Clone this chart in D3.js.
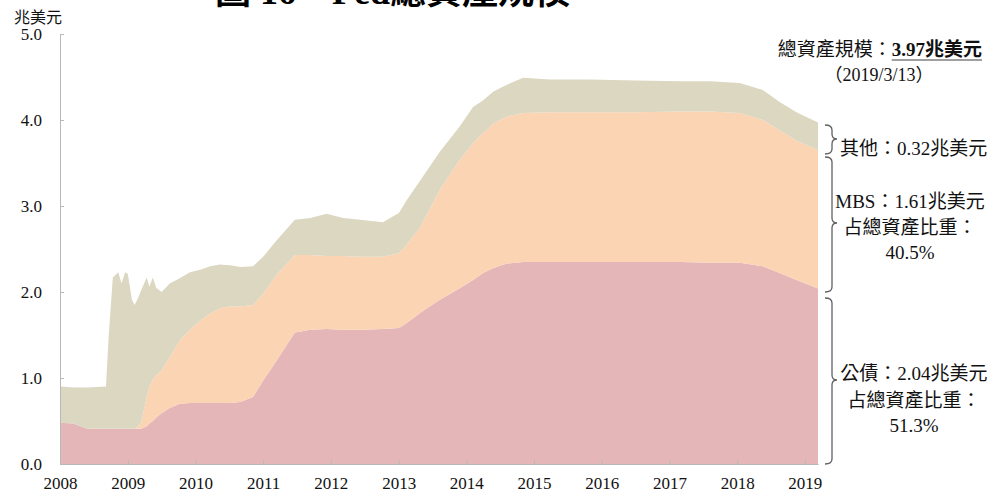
<!DOCTYPE html>
<html>
<head>
<meta charset="utf-8">
<script src="https://cdn.jsdelivr.net/npm/d3@7"></script>
<style>
  body { margin: 0; background: #fff; }
  svg { display: block; }
  .fed-axis text { font-family: "Liberation Serif", "Noto Sans CJK TC", serif; font-size: 17px; fill: #111; }
  .fed-axis path, .fed-axis line { stroke: #b8b8b8; }
  .fed-note { font-family: "Liberation Serif", "Noto Sans CJK TC", serif; font-size: 19px; fill: #111; }
</style>
</head>
<body>
<div id="chart"></div>
<script>
// weekly balance sheet, sampled by eye (trillion USD)
const dates = ["2008-01-02", "2008-03-14", "2008-05-27", "2008-09-05", "2008-09-20", "2008-10-12", "2008-11-10",
    "2008-11-28", "2008-12-17", "2009-01-01", "2009-01-23", "2009-02-06", "2009-02-21", "2009-03-14", "2009-04-13",
    "2009-04-27", "2009-05-16", "2009-06-03", "2009-07-02", "2009-08-15", "2009-10-08", "2009-12-02", "2010-01-26",
    "2010-03-22", "2010-05-12", "2010-07-06", "2010-08-30", "2010-11-07", "2011-01-01", "2011-03-14", "2011-06-21",
    "2011-09-13", "2011-12-09", "2012-03-07", "2012-06-06", "2012-10-08", "2013-01-02", "2013-02-14", "2013-04-28",
    "2013-08-11", "2013-11-24", "2014-02-06", "2014-04-02", "2014-05-27", "2014-08-08", "2014-11-03", "2015-03-29",
    "2015-10-30", "2016-07-01", "2017-03-01", "2017-08-08", "2018-01-15", "2018-05-19", "2018-08-18", "2018-11-17",
    "2019-03-13"];
const treasury = [0.48, 0.47, 0.41, 0.41, 0.41, 0.41, 0.41, 0.41, 0.41, 0.41, 0.41, 0.41, 0.41, 0.41, 0.44,
    0.47, 0.50, 0.54, 0.59, 0.65, 0.70, 0.71, 0.71, 0.71, 0.71, 0.71, 0.72, 0.78, 0.97, 1.20, 1.53,
    1.56, 1.57, 1.56, 1.56, 1.57, 1.58, 1.64, 1.76, 1.91, 2.04, 2.14, 2.22, 2.28, 2.33, 2.35, 2.35,
    2.35, 2.35, 2.35, 2.34, 2.34, 2.30, 2.22, 2.14, 2.04];
const mbs = [0, 0, 0, 0, 0, 0, 0, 0, 0, 0, 0, 0, 0.02, 0.07, 0.34,
    0.43, 0.48, 0.49, 0.50, 0.59, 0.74, 0.85, 0.96, 1.04, 1.10, 1.12, 1.11, 1.07, 1.01, 1.00, 0.90,
    0.87, 0.85, 0.86, 0.85, 0.84, 0.87, 0.91, 1.00, 1.28, 1.49, 1.59, 1.63, 1.68, 1.71, 1.73, 1.74,
    1.74, 1.74, 1.75, 1.76, 1.74, 1.70, 1.66, 1.62, 1.61];
const other = [0.42, 0.42, 0.48, 0.49, 1.09, 1.76, 1.82, 1.69, 1.82, 1.80, 1.50, 1.44, 1.48, 1.54, 1.39,
    1.16, 1.19, 1.02, 0.91, 0.86, 0.72, 0.67, 0.59, 0.55, 0.51, 0.48, 0.46, 0.45, 0.43, 0.40, 0.41,
    0.43, 0.49, 0.44, 0.43, 0.40, 0.47, 0.52, 0.54, 0.44, 0.39, 0.42, 0.38, 0.37, 0.37, 0.41, 0.38,
    0.38, 0.37, 0.35, 0.35, 0.35, 0.35, 0.33, 0.33, 0.32];
const yTicks = [0, 1, 2, 3, 4, 5];
const seriesKeys = ["treasury", "mbs", "other"];

const width = 1003;
const height = 496;
const margin = {top: 34, bottom: 32, left: 60, right: 185};
const colors = {treasury: "#e5b6b7", mbs: "#fbd4b4", other: "#dcd7c1"};

const svg = d3.select("#chart").append("svg")
    .attr("width", width)
    .attr("height", height);

const parse = d3.timeParse("%Y-%m-%d");
const rows = dates.map((d, i) => ({
    date: parse(d),
    treasury: treasury[i],
    mbs: mbs[i],
    other: other[i]
}));

const x = d3.scaleTime()
    .domain([parse("2008-01-01"), parse("2019-03-13")])
    .range([margin.left, width - margin.right]);

const y = d3.scaleLinear()
    .domain([0, 5])
    .range([height - margin.bottom, margin.top]);

const stacked = d3.stack().keys(seriesKeys)(rows);

const area = d3.area()
    .x(d => x(d.data.date))
    .y0(d => y(d[0]))
    .y1(d => y(d[1]));

svg.selectAll(".fed-area")
    .data(stacked)
    .join("path")
    .attr("class", "fed-area")
    .attr("d", area)
    .attr("fill", d => colors[d.key]);

// axes
svg.append("g")
    .attr("class", "fed-axis")
    .attr("transform", "translate(0," + (height - margin.bottom) + ")")
    .call(d3.axisBottom(x)
        .ticks(d3.timeYear.every(1))
        .tickFormat(d3.timeFormat("%Y"))
        .tickSizeInner(-4)
        .tickSizeOuter(0)
        .tickPadding(13));

svg.append("g")
    .attr("class", "fed-axis")
    .attr("transform", "translate(" + margin.left + ",0)")
    .call(d3.axisLeft(y)
        .tickValues(yTicks)
        .tickFormat(d3.format(".1f"))
        .tickSizeInner(-4)
        .tickSizeOuter(0)
        .tickPadding(18));

svg.append("text")
    .attr("class", "fed-note")
    .attr("x", 14)
    .attr("y", 23)
    .style("font-size", "16px")
    .text("兆美元");

// title, mostly cut off at the top edge
svg.append("text")
    .attr("x", 215)
    .attr("y", 4)
    .style("font-family", "\"Liberation Serif\", \"Noto Sans CJK TC\", serif")
    .style("font-size", "36px")
    .style("font-weight", "bold")
    .text("圖 16　Fed總資產規模");

// total label
const boldPart = svg.append("text")
    .attr("class", "fed-note")
    .attr("x", 982)
    .attr("y", 56)
    .attr("text-anchor", "end")
    .style("font-weight", "bold")
    .text("3.97兆美元");
const bb = boldPart.node().getBBox();
svg.append("text")
    .attr("class", "fed-note")
    .attr("x", bb.x)
    .attr("y", 56)
    .attr("text-anchor", "end")
    .text("總資產規模：");
svg.append("line")
    .attr("x1", bb.x).attr("x2", bb.x + bb.width)
    .attr("y1", 60).attr("y2", 60)
    .attr("stroke", "#808080")
    .attr("stroke-width", 1.5);
svg.append("text")
    .attr("class", "fed-note")
    .attr("x", 879)
    .attr("y", 81)
    .attr("text-anchor", "middle")
    .style("font-size", "18px")
    .text("（2019/3/13）");

// braces pointing at the notes
function brace(y0, y1, ym) {
    const xv = 832;
    return `M${xv - 7},${y0} Q${xv},${y0} ${xv},${y0 + 5} L${xv},${ym - 5} Q${xv},${ym} ${xv + 5},${ym}`
        + ` Q${xv},${ym} ${xv},${ym + 5} L${xv},${y1 - 5} Q${xv},${y1} ${xv - 7},${y1}`;
}
const braces = [[125, 154, 139], [157, 292, 223], [298, 464, 380]];
svg.selectAll(".fed-brace")
    .data(braces)
    .join("path")
    .attr("class", "fed-brace")
    .attr("d", d => brace(d[0], d[1], d[2]))
    .attr("fill", "none")
    .attr("stroke", "#606060")
    .attr("stroke-width", 1.3);

svg.append("text")
    .attr("class", "fed-note")
    .attr("x", 840)
    .attr("y", 155)
    .text("其他：0.32兆美元");

const notes = [
    {x: 910, y: 208, t: "MBS：1.61兆美元"},
    {x: 910, y: 234, t: "占總資產比重："},
    {x: 910, y: 259, t: "40.5%"},
    {x: 914, y: 380, t: "公債：2.04兆美元"},
    {x: 914, y: 407, t: "占總資產比重："},
    {x: 914, y: 432, t: "51.3%"}
];
svg.selectAll(".fed-side")
    .data(notes)
    .join("text")
    .attr("class", "fed-note fed-side")
    .attr("x", d => d.x)
    .attr("y", d => d.y)
    .attr("text-anchor", "middle")
    .text(d => d.t);
</script>
</body>
</html>
